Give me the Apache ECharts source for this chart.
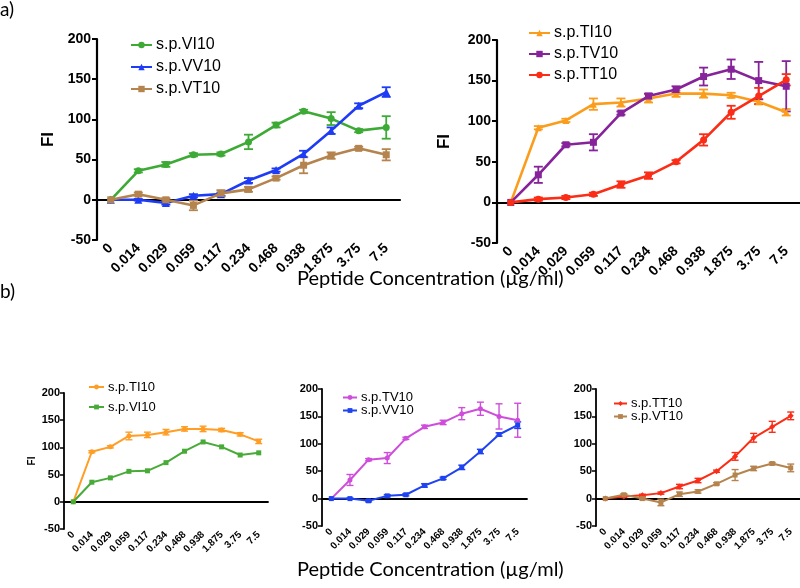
<!DOCTYPE html>
<html>
<head>
<meta charset="utf-8">
<script src="https://cdn.jsdelivr.net/npm/echarts@6/dist/echarts.min.js"></script>
<style>html,body{margin:0;padding:0;background:#fff}#c{width:800px;height:588px}</style>
</head>
<body>
<div id="c"></div>
<script>
// ---- data ----
const categories = ['0','0.014','0.029','0.059','0.117','0.234','0.468','0.938','1.875','3.75','7.5'];
const VI10 = [0, 36, 44, 56, 57, 72, 93, 110, 101, 86, 90];
const VI10_err = [0, 2, 3, 2, 2, 9, 3, 2, 8, 2, 14];
const VV10 = [0, 0, -4, 5, 7, 24, 37, 57, 86, 117, 134];
const VV10_err = [0, 1, 2, 2, 2, 3, 2, 4, 4, 3, 6];
const VT10 = [0, 7, 0, -7, 8, 13, 27, 43, 55, 64, 56];
const VT10_err = [0, 2, 2, 6, 4, 3, 2, 10, 4, 2, 7];
const TI10 = [0, 92, 101, 121, 123, 128, 134, 134, 132, 124, 111];
const TI10_err = [0, 2, 2, 7, 5, 5, 4, 5, 3, 3, 4];
const TV10 = [0, 34, 71, 74, 110, 131, 139, 155, 164, 150, 143];
const TV10_err = [0, 10, 2, 10, 2, 3, 4, 11, 12, 23, 31];
const TT10 = [0, 4, 6, 10, 22, 33, 50, 77, 111, 131, 151];
const TT10_err = [0, 2, 2, 2, 4, 4, 2, 7, 8, 10, 7];
const yTicks = {min: -50, max: 200, interval: 50};
const xTitle = 'Peptide Concentration (µg/ml)';

// ---- layout ----
const panels = [
  {left: 97, top: 39, width: 303, height: 201, big: true, yName: 'FI', nameGap: 40},
  {left: 497, top: 40, width: 303, height: 203, big: true, yName: 'FI', nameGap: 44},
  {left: 64, top: 393, width: 204, height: 136, big: false, yName: 'FI', nameGap: 24},
  {left: 322, top: 389, width: 205, height: 137, big: false, yName: '', nameGap: 20},
  {left: 596, top: 389, width: 204, height: 137, big: false, yName: '', nameGap: 20}
];

const grid = panels.map(p => ({left: p.left, top: p.top, width: p.width, height: p.height, containLabel: false}));
const xAxis = panels.map((p, i) => ({
  type: 'category', gridIndex: i, data: categories, boundaryGap: true,
  axisLine: {onZero: true, lineStyle: {color: '#000', width: p.big ? 2.2 : 1.8}},
  axisTick: {alignWithLabel: true, length: p.big ? 5 : 4, lineStyle: {color: '#000', width: p.big ? 2 : 1.5}},
  axisLabel: {interval: 0, rotate: 45, color: '#000', fontWeight: 'bold', fontFamily: 'Arial, Liberation Sans',
    fontSize: p.big ? 14 : 10, margin: p.big ? 6 : 4},
  splitLine: {show: false}
}));
const yAxis = panels.map((p, i) => ({
  type: 'value', gridIndex: i, min: yTicks.min, max: yTicks.max, interval: yTicks.interval,
  name: p.yName, nameLocation: 'middle', nameGap: p.nameGap,
  nameTextStyle: {color: '#000', fontWeight: 'bold', fontFamily: 'Arial, Liberation Sans', fontSize: p.big ? 17 : 10},
  axisLine: {show: true, onZero: false, lineStyle: {color: '#000', width: p.big ? 2.2 : 1.8}},
  axisTick: {show: true, length: p.big ? 5 : 4, lineStyle: {color: '#000', width: p.big ? 2 : 1.5}},
  axisLabel: {color: '#000', fontWeight: 'bold', fontFamily: 'Arial, Liberation Sans', fontSize: p.big ? 14 : 11, margin: p.big ? 6 : 4},
  splitLine: {show: false}
}));

const series = [];
function addLine(name, vals, errs, color, symbol, size, idx, big) {
  series.push({
    name: name, type: 'line', xAxisIndex: idx, yAxisIndex: idx, data: vals,
    symbol: symbol, symbolSize: size, showSymbol: true,
    lineStyle: {color: color, width: big ? 2.6 : 2}, itemStyle: {color: color},
    z: 3, animation: false
  });
  if (errs) {
    series.push({
      name: name + '_err', type: 'custom', xAxisIndex: idx, yAxisIndex: idx, animation: false, silent: true, z: 2,
      data: vals.map((v, i) => [i, v - errs[i], v + errs[i], errs[i]]),
      encode: {x: 0, y: [1, 2]},
      renderItem: function (params, api) {
        if (api.value(3) <= 0) return null;
        const lo = api.coord([api.value(0), api.value(1)]);
        const hi = api.coord([api.value(0), api.value(2)]);
        const w = big ? 4.5 : 3.5;
        const st = {stroke: color, lineWidth: big ? 1.8 : 1.4};
        return {type: 'group', children: [
          {type: 'line', shape: {x1: lo[0], y1: lo[1], x2: hi[0], y2: hi[1]}, style: st},
          {type: 'line', shape: {x1: lo[0] - w, y1: lo[1], x2: lo[0] + w, y2: lo[1]}, style: st},
          {type: 'line', shape: {x1: hi[0] - w, y1: hi[1], x2: hi[0] + w, y2: hi[1]}, style: st}
        ]};
      }
    });
  }
}
// panel a-left
addLine('s.p.VI10|a', VI10, VI10_err, '#3daa35', 'circle', 7, 0, true);
addLine('s.p.VV10|a', VV10, VV10_err, '#1e3cf5', 'triangle', 8, 0, true);
addLine('s.p.VT10|a', VT10, VT10_err, '#b5844e', 'rect', 7, 0, true);
// panel a-right
addLine('s.p.TI10|a', TI10, TI10_err, '#fb9d1c', 'triangle', 7, 1, true);
addLine('s.p.TV10|a', TV10, TV10_err, '#87239a', 'rect', 7, 1, true);
addLine('s.p.TT10|a', TT10, TT10_err, '#fb2d16', 'circle', 7, 1, true);
// panel b-left
addLine('s.p.TI10|b', TI10, TI10_err, '#ff9d24', 'circle', 5, 2, false);
addLine('s.p.VI10|b', VI10, null, '#48ab38', 'rect', 5, 2, false);
// panel b-mid
addLine('s.p.TV10|b', TV10, TV10_err, '#cf4ddb', 'circle', 5, 3, false);
addLine('s.p.VV10|b', VV10, VV10_err, '#1f43f0', 'rect', 5, 3, false);
// panel b-right
addLine('s.p.TT10|b', TT10, TT10_err, '#fb2d16', 'diamond', 6, 4, false);
addLine('s.p.VT10|b', VT10, VT10_err, '#b5844e', 'rect', 5, 4, false);

const fmt = n => n.split('|')[0];
function leg(names, left, top, iw, ih, gap, fs, lh) {
  return {data: names, orient: 'vertical', left: left, top: top, itemWidth: iw, itemHeight: ih, itemGap: gap,
    formatter: fmt, selectedMode: false, padding: 0,
    textStyle: {color: '#000', fontFamily: 'Arial, Liberation Sans', fontSize: fs, lineHeight: lh, padding: [0, 0, 0, -1]}};
}
const legend = [
  leg(['s.p.VI10|a', 's.p.VV10|a', 's.p.VT10|a'], 130, 36, 21, 8, 4, 16, 18),
  leg(['s.p.TI10|a', 's.p.TV10|a', 's.p.TT10|a'], 528, 24, 21, 8, 3, 16, 18),
  leg(['s.p.TI10|b', 's.p.VI10|b'], 88, 380, 15, 6, 6, 13, 14),
  leg(['s.p.TV10|b', 's.p.VV10|b'], 342, 391, 14, 6, 0, 13, 12),
  leg(['s.p.TT10|b', 's.p.VT10|b'], 613, 397, 13, 6, 0, 13, 11)
];

const title = [
  {text: 'a)', left: 0, top: 0, padding: 0, textStyle: {fontFamily: 'Lato, Open Sans', fontWeight: 'normal', fontSize: 19, color: '#000'}},
  {text: 'b)', left: 0, top: 282, padding: 0, textStyle: {fontFamily: 'Lato, Open Sans', fontWeight: 'normal', fontSize: 19, color: '#000'}},
  {text: xTitle, left: 297, top: 269, padding: 0, textStyle: {fontFamily: 'Lato, Open Sans', fontWeight: 'normal', fontSize: 20, color: '#000'}},
  {text: xTitle, left: 297, top: 560, padding: 0, textStyle: {fontFamily: 'Lato, Open Sans', fontWeight: 'normal', fontSize: 20, color: '#000'}}
];

const chart = echarts.init(document.getElementById('c'), null, {renderer: 'canvas'});
chart.setOption({animation: false, backgroundColor: '#fff', title, legend, grid, xAxis, yAxis, series});
</script>
</body>
</html>
